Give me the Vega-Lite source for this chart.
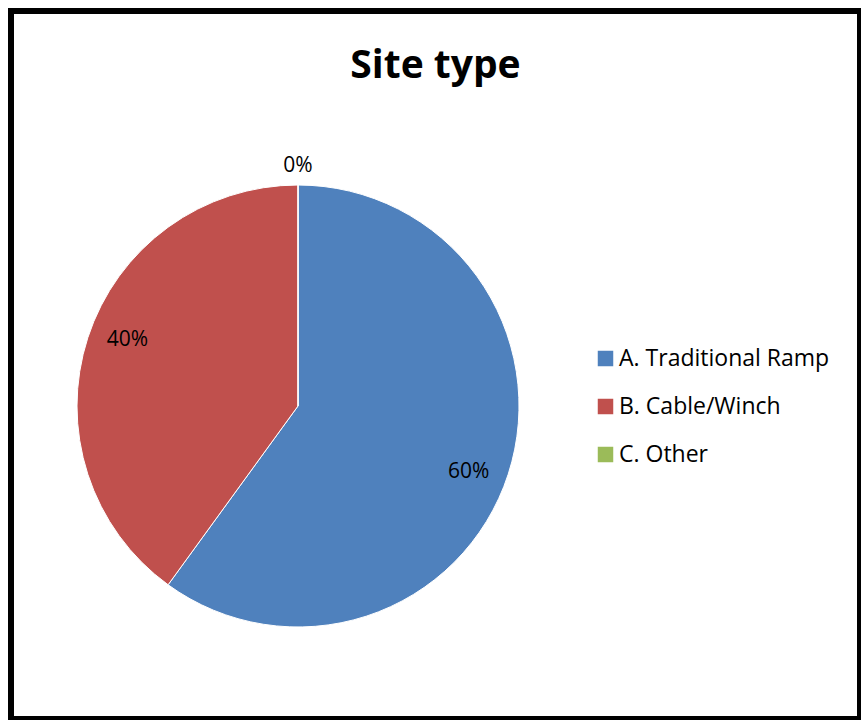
{
  "$schema": "https://vega.github.io/schema/vega-lite/v6.json",
  "width": 849,
  "height": 708,
  "autosize": {"type": "none"},
  "padding": {"left": 11, "top": 11, "right": 1, "bottom": 1},
  "background": "white",
  "view": {"stroke": "black", "strokeWidth": 6, "fill": "white"},
  "config": {
    "font": "Open Sans"
  },
  "title": {
    "text": "Site type",
    "orient": "top",
    "anchor": "middle",
    "frame": "group",
    "offset": 0,
    "dy": 106,
    "baseline": "alphabetic",
    "font": "Open Sans",
    "fontSize": 39,
    "fontWeight": "bold",
    "color": "black"
  },
  "data": {
    "values": [
      {"category": "A. Traditional Ramp", "pct": 0.6},
      {"category": "B. Cable/Winch", "pct": 0.4},
      {"category": "C. Other", "pct": 0.0}
    ]
  },
  "encoding": {
    "theta": {"field": "pct", "type": "quantitative", "stack": true},
    "order": {"field": "category", "type": "ordinal", "sort": "ascending"},
    "color": {
      "field": "category",
      "type": "nominal",
      "scale": {
        "domain": ["A. Traditional Ramp", "B. Cable/Winch", "C. Other"],
        "range": ["#4F81BD", "#C0504D", "#9BBB59"]
      },
      "legend": {
        "title": null,
        "orient": "none",
        "legendX": 583,
        "legendY": 336,
        "padding": 0,
        "symbolType": "square",
        "symbolSize": 240,
        "symbolStrokeWidth": 0,
        "labelFont": "Open Sans",
        "labelFontSize": 23,
        "labelColor": "black",
        "labelOffset": 2,
        "labelLimit": 400,
        "rowPadding": 24
      }
    }
  },
  "layer": [
    {
      "mark": {"type": "arc", "x": 287, "y": 395, "outerRadius": 221, "stroke": "white", "strokeWidth": 1}
    },
    {
      "transform": [{"filter": "datum.pct > 0"}],
      "mark": {"type": "text", "x": 287, "y": 395, "radius": 183, "thetaOffset": 0.055, "font": "Open Sans", "fontSize": 21, "baseline": "middle", "align": "center"},
      "encoding": {
        "text": {"field": "pct", "type": "quantitative", "format": ".0%"},
        "color": {"value": "black"}
      }
    },
    {
      "transform": [{"filter": "datum.pct == 0"}],
      "mark": {"type": "text", "x": 287, "y": 395, "radius": 240, "font": "Open Sans", "fontSize": 21, "baseline": "middle", "align": "center"},
      "encoding": {
        "text": {"field": "pct", "type": "quantitative", "format": ".0%"},
        "color": {"value": "black"}
      }
    }
  ]
}
